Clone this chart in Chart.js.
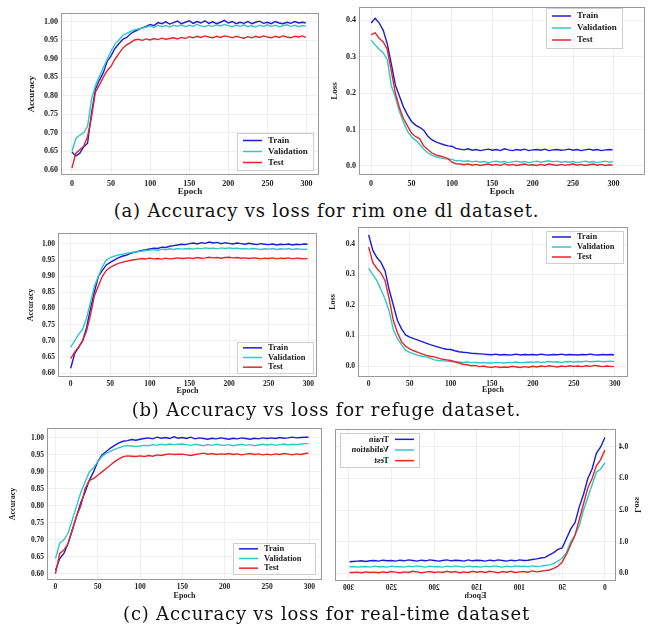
<!DOCTYPE html>
<html>
<head>
<meta charset="utf-8">
<script src="https://cdn.jsdelivr.net/npm/chart.js@4.4.0/dist/chart.umd.min.js"></script>
<style>
  body { margin: 0; background: #fff; width: 653px; height: 630px; position: relative; overflow: hidden; }
  canvas { position: absolute; }
  .cap { position: absolute; left: 0; width: 653px; text-align: center; font-family: "DejaVu Serif"; font-size: 18px; letter-spacing: 0.8px; color: #111; white-space: nowrap; line-height: 22px; }
</style>
</head>
<body>
<canvas id="aAcc" width="325" height="200" style="left:0px;top:0px"></canvas>
<canvas id="aLoss" width="328" height="200" style="left:325px;top:0px"></canvas>
<div class="cap" style="top:200px">(a) Accuracy vs loss for rim one dl dataset.</div>
<canvas id="bAcc" width="325" height="178" style="left:0px;top:222px"></canvas>
<canvas id="bLoss" width="328" height="178" style="left:325px;top:222px"></canvas>
<div class="cap" style="top:399px">(b) Accuracy vs loss for refuge dataset.</div>
<canvas id="cAcc" width="325" height="182" style="left:0px;top:420px"></canvas>
<canvas id="cLoss" width="328" height="182" style="left:325px;top:420px;transform:scaleX(-1)"></canvas>
<div class="cap" style="top:603px">(c) Accuracy vs loss for real-time dataset</div>

<script>
// epochs (every 5th epoch)
const epochs = [0,5,10,15,20,25,30,35,40,45, 50,55,60,65,70,75,80,85,90,95,
  100,105,110,115,120,125,130,135,140,145, 150,155,160,165,170,175,180,185,190,195,
  200,205,210,215,220,225,230,235,240,245, 250,255,260,265,270,275,280,285,290,295, 299];
const xTicks = [0, 50, 100, 150, 200, 250, 300];
const accTicks = [0.60, 0.65, 0.70, 0.75, 0.80, 0.85, 0.90, 0.95, 1.00];
const lossTicks = [0.0, 0.1, 0.2, 0.3, 0.4];
const seriesNames = ['Train', 'Validation', 'Test'];
const seriesColors = ['#1c1cd4', '#33c6c6', '#e2262a'];

// (a) rim one dl
const aAccTrain = [0.648,0.637,0.645,0.662,0.672,0.752,0.818,0.842,0.862,0.893,
  0.908,0.928,0.941,0.953,0.958,0.968,0.974,0.979,0.984,0.988,
  0.993,0.990,0.998,0.995,1.000,0.994,0.998,1.002,0.995,0.999,
  1.003,0.996,1.001,0.997,1.003,0.996,1.000,0.995,0.999,1.004,
  0.997,1.001,0.995,0.999,0.996,1.001,0.995,0.999,1.002,0.996,
  0.999,0.995,1.001,0.997,0.995,0.999,0.996,1.001,0.997,0.999, 0.997];
const aAccVal = [0.650,0.684,0.694,0.700,0.718,0.790,0.828,0.852,0.876,0.899,
  0.921,0.940,0.951,0.964,0.969,0.974,0.979,0.981,0.983,0.986,
  0.989,0.985,0.991,0.987,0.990,0.986,0.991,0.988,0.992,0.987,
  0.991,0.988,0.993,0.989,0.987,0.991,0.988,0.992,0.989,0.993,
  0.990,0.987,0.991,0.988,0.992,0.987,0.990,0.986,0.991,0.988,
  0.992,0.988,0.991,0.987,0.990,0.992,0.988,0.991,0.987,0.990, 0.988];
const aAccTest = [0.605,0.645,0.654,0.664,0.690,0.742,0.810,0.829,0.850,0.868,
  0.880,0.899,0.914,0.929,0.938,0.944,0.951,0.953,0.950,0.954,
  0.951,0.955,0.952,0.956,0.953,0.955,0.957,0.954,0.958,0.955,
  0.960,0.957,0.961,0.958,0.962,0.959,0.957,0.961,0.958,0.962,
  0.960,0.957,0.961,0.958,0.956,0.960,0.957,0.961,0.958,0.962,
  0.959,0.957,0.961,0.958,0.962,0.959,0.957,0.961,0.959,0.962, 0.958];
const aLossTrain = [0.392,0.405,0.392,0.372,0.335,0.280,0.222,0.192,0.162,0.140,
  0.122,0.112,0.106,0.098,0.082,0.072,0.066,0.062,0.058,0.055,
  0.054,0.048,0.046,0.044,0.047,0.043,0.045,0.042,0.044,0.046,
  0.043,0.045,0.042,0.047,0.044,0.042,0.045,0.043,0.046,0.042,
  0.044,0.045,0.043,0.046,0.042,0.044,0.045,0.043,0.044,0.046,
  0.043,0.045,0.042,0.044,0.046,0.043,0.045,0.042,0.044,0.045, 0.044];
const aLossVal = [0.345,0.332,0.320,0.310,0.292,0.220,0.188,0.150,0.120,0.095,
  0.080,0.070,0.060,0.046,0.036,0.030,0.025,0.022,0.020,0.019,
  0.018,0.014,0.015,0.012,0.014,0.011,0.013,0.010,0.012,0.009,
  0.011,0.013,0.010,0.012,0.009,0.011,0.013,0.010,0.012,0.009,
  0.011,0.013,0.010,0.012,0.014,0.011,0.013,0.010,0.012,0.010,
  0.012,0.009,0.011,0.013,0.010,0.012,0.009,0.011,0.013,0.010, 0.012];
const aLossTest = [0.360,0.365,0.350,0.340,0.320,0.260,0.200,0.160,0.130,0.110,
  0.090,0.080,0.075,0.055,0.045,0.036,0.030,0.027,0.024,0.020,
  0.010,0.006,0.005,0.003,0.005,0.002,0.004,0.001,0.003,0.005,
  0.002,0.004,0.001,0.006,0.002,0.004,0.001,0.003,0.005,0.002,
  0.003,0.001,0.004,0.002,0.005,0.003,0.001,0.004,0.002,0.003,
  0.005,0.002,0.004,0.001,0.003,0.005,0.002,0.004,0.001,0.003, 0.002];

// (b) refuge
const bAccTrain = [0.615,0.660,0.680,0.700,0.740,0.800,0.852,0.900,0.918,0.935,
  0.943,0.950,0.957,0.962,0.965,0.970,0.974,0.977,0.980,0.982,
  0.985,0.987,0.986,0.990,0.989,0.993,0.995,0.997,0.999,0.998,
  1.001,1.003,1.000,1.004,1.002,1.006,1.003,1.005,1.001,1.004,
  1.002,1.000,1.003,1.001,0.999,1.002,1.000,0.998,1.001,0.999,
  0.998,1.000,0.997,0.999,0.998,1.000,0.997,0.999,0.998,1.000, 0.999];
const bAccVal = [0.680,0.700,0.720,0.735,0.770,0.820,0.870,0.900,0.930,0.950,
  0.958,0.962,0.966,0.968,0.971,0.973,0.975,0.976,0.978,0.980,
  0.981,0.983,0.980,0.984,0.982,0.985,0.983,0.986,0.984,0.985,
  0.986,0.984,0.987,0.985,0.988,0.986,0.987,0.985,0.988,0.986,
  0.988,0.986,0.987,0.985,0.986,0.984,0.986,0.985,0.983,0.985,
  0.984,0.986,0.983,0.985,0.984,0.986,0.983,0.985,0.984,0.983, 0.984];
const bAccTest = [0.645,0.665,0.680,0.700,0.730,0.780,0.840,0.870,0.900,0.918,
  0.928,0.934,0.940,0.943,0.946,0.949,0.951,0.953,0.955,0.954,
  0.956,0.954,0.955,0.953,0.956,0.954,0.955,0.957,0.955,0.956,
  0.957,0.955,0.958,0.956,0.957,0.959,0.957,0.958,0.956,0.958,
  0.959,0.957,0.958,0.956,0.957,0.955,0.957,0.956,0.954,0.956,
  0.955,0.957,0.954,0.956,0.955,0.957,0.954,0.956,0.955,0.954, 0.955];
const bLossTrain = [0.430,0.380,0.356,0.340,0.312,0.250,0.200,0.150,0.122,0.102,
  0.095,0.090,0.085,0.080,0.075,0.070,0.066,0.062,0.058,0.055,
  0.054,0.050,0.047,0.045,0.044,0.042,0.041,0.040,0.039,0.038,
  0.037,0.039,0.036,0.038,0.036,0.037,0.039,0.036,0.038,0.037,
  0.038,0.036,0.039,0.037,0.036,0.038,0.037,0.039,0.036,0.038,
  0.037,0.036,0.038,0.037,0.039,0.037,0.036,0.038,0.037,0.038, 0.037];
const bLossVal = [0.320,0.300,0.280,0.250,0.220,0.180,0.120,0.090,0.070,0.052,
  0.045,0.040,0.035,0.032,0.030,0.026,0.020,0.018,0.017,0.016,
  0.015,0.014,0.013,0.012,0.013,0.011,0.012,0.010,0.011,0.010,
  0.010,0.012,0.011,0.010,0.012,0.011,0.013,0.011,0.012,0.013,
  0.012,0.014,0.012,0.013,0.015,0.013,0.014,0.012,0.014,0.015,
  0.013,0.015,0.014,0.016,0.014,0.015,0.016,0.014,0.015,0.016, 0.015];
const bLossTest = [0.390,0.340,0.320,0.305,0.280,0.220,0.150,0.110,0.080,0.065,
  0.056,0.050,0.045,0.040,0.035,0.032,0.030,0.026,0.022,0.020,
  0.018,0.014,0.010,0.006,0.004,0.001,0.002,-0.002,0.000,-0.003,
  -0.004,-0.002,-0.005,-0.003,-0.004,-0.001,-0.003,-0.005,-0.002,-0.004,
  -0.001,-0.003,0.000,-0.002,0.001,-0.001,-0.003,0.000,-0.002,0.001,
  -0.001,0.000,-0.002,0.001,-0.001,0.002,0.000,-0.002,0.000,-0.001, -0.002];

// (c) real-time
const cAccTrain = [0.610,0.645,0.660,0.690,0.730,0.770,0.810,0.840,0.875,0.900,
  0.930,0.950,0.960,0.970,0.978,0.985,0.990,0.992,0.995,0.993,
  0.996,0.998,1.000,0.997,1.002,0.999,1.001,0.998,1.003,0.999,
  1.001,0.998,1.002,0.997,1.000,0.998,0.996,0.999,0.997,1.000,
  0.998,0.996,0.999,0.997,1.000,0.998,0.996,0.999,0.997,1.000,
  0.998,1.000,0.998,1.001,0.999,1.000,1.002,1.000,1.001,1.002, 1.002];
const cAccVal = [0.645,0.690,0.700,0.720,0.760,0.800,0.840,0.870,0.900,0.912,
  0.930,0.945,0.955,0.960,0.966,0.971,0.975,0.977,0.976,0.975,
  0.976,0.978,0.977,0.980,0.978,0.981,0.979,0.982,0.980,0.981,
  0.982,0.980,0.978,0.981,0.979,0.977,0.980,0.978,0.981,0.979,
  0.978,0.980,0.977,0.979,0.981,0.978,0.980,0.977,0.979,0.981,
  0.979,0.981,0.978,0.980,0.982,0.979,0.981,0.980,0.982,0.983, 0.983];
const cAccTest = [0.600,0.660,0.670,0.690,0.730,0.770,0.800,0.850,0.875,0.880,
  0.890,0.900,0.910,0.920,0.930,0.938,0.945,0.947,0.946,0.945,
  0.947,0.945,0.948,0.946,0.950,0.948,0.951,0.953,0.951,0.952,
  0.952,0.950,0.948,0.951,0.953,0.955,0.952,0.954,0.951,0.953,
  0.952,0.954,0.951,0.953,0.950,0.952,0.954,0.951,0.953,0.950,
  0.952,0.950,0.953,0.951,0.954,0.952,0.950,0.953,0.951,0.954, 0.955];
const cLossTrain = [0.430,0.400,0.380,0.330,0.300,0.250,0.210,0.160,0.140,0.110,
  0.080,0.075,0.065,0.058,0.050,0.048,0.045,0.043,0.041,0.040,
  0.042,0.039,0.041,0.038,0.040,0.042,0.039,0.041,0.038,0.040,
  0.041,0.039,0.042,0.038,0.040,0.041,0.039,0.042,0.040,0.038,
  0.040,0.042,0.039,0.041,0.038,0.040,0.042,0.039,0.041,0.038,
  0.040,0.039,0.041,0.038,0.040,0.039,0.037,0.039,0.038,0.037, 0.036];
const cLossVal = [0.350,0.330,0.320,0.280,0.240,0.200,0.150,0.120,0.100,0.065,
  0.047,0.038,0.030,0.026,0.024,0.022,0.021,0.023,0.020,0.022,
  0.021,0.023,0.020,0.022,0.019,0.021,0.023,0.020,0.022,0.019,
  0.021,0.020,0.022,0.019,0.021,0.023,0.020,0.022,0.019,0.021,
  0.020,0.022,0.019,0.021,0.023,0.020,0.022,0.019,0.021,0.020,
  0.022,0.019,0.021,0.020,0.022,0.019,0.021,0.020,0.019,0.021, 0.020];
const cLossTest = [0.390,0.360,0.340,0.300,0.270,0.220,0.170,0.120,0.090,0.060,
  0.035,0.022,0.015,0.010,0.008,0.006,0.004,0.007,0.003,0.005,
  0.004,0.002,0.006,0.003,0.005,0.001,0.004,0.006,0.002,0.005,
  0.003,0.006,0.002,0.004,0.001,0.005,0.003,0.006,0.002,0.004,
  0.002,0.005,0.003,0.001,0.004,0.006,0.002,0.004,0.001,0.003,
  0.005,0.002,0.004,0.001,0.003,0.002,0.004,0.001,0.003,0.002, 0.002];

const SERIF = '"Liberation Serif", "Times New Roman", serif';

// frame round the plot + matplotlib-like legend box
const frameLegend = {
  id: 'frameLegend',
  afterDatasetsDraw(chart, args, o) {
    const { ctx, chartArea: a } = chart;
    ctx.save();
    ctx.strokeStyle = '#9a9a9a';
    ctx.lineWidth = 1;
    ctx.strokeRect(Math.round(a.left) + 0.5, Math.round(a.top) + 0.5,
      Math.round(a.right - a.left) - 1, Math.round(a.bottom - a.top) - 1);

    const L = o.box;
    if (L) {
      const x = a.right - L.dx - L.w;
      const y = L.corner === 'tr' ? a.top + L.dy : a.bottom - L.dy - L.h;
      ctx.fillStyle = 'rgba(255,255,255,0.92)';
      ctx.strokeStyle = '#cfcfcf';
      ctx.fillRect(x, y, L.w, L.h);
      ctx.strokeRect(Math.round(x) + 0.5, Math.round(y) + 0.5, L.w, L.h);
      const rowH = (L.h - 2 * L.pad) / 3;
      ctx.font = 'bold ' + L.size + 'px ' + SERIF;
      ctx.textBaseline = 'middle';
      ctx.textAlign = 'left';
      chart.data.datasets.forEach((ds, i) => {
        const cy = y + L.pad + rowH * (i + 0.5);
        ctx.strokeStyle = ds.borderColor;
        ctx.lineWidth = 1.5;
        ctx.beginPath();
        ctx.moveTo(x + 6, cy);
        ctx.lineTo(x + 25, cy);
        ctx.stroke();
        ctx.fillStyle = '#222';
        ctx.fillText(ds.label, x + 31, cy);
      });
    }
    ctx.restore();
  }
};

function makeChart(id, c) {
  const canvas = document.getElementById(id);
  const w = canvas.width, h = canvas.height;
  const lh = c.titleSize * 1.2;
  const W = c.area.l - (c.yTitleX - lh / 2);
  const H = (c.xTitleY + lh / 2) - c.area.b;
  const ticks = c.kind === 'acc' ? accTicks : lossTicks;
  const dec = c.kind === 'acc' ? 2 : 1;

  return new Chart(canvas, {
    type: 'line',
    data: {
      datasets: c.series.map((vals, i) => ({
        label: seriesNames[i],
        data: epochs.map((e, k) => ({ x: e, y: vals[k] })),
        borderColor: seriesColors[i],
        borderWidth: 1.4,
        pointRadius: 0,
        tension: 0,
        order: 2 - i
      }))
    },
    options: {
      responsive: false,
      animation: false,
      layout: {
        padding: { left: c.area.l - W, right: w - c.area.r, top: c.area.t, bottom: h - c.area.b - H }
      },
      plugins: { legend: { display: false }, tooltip: { enabled: false }, frameLegend: { box: c.legend } },
      scales: {
        x: {
          type: 'linear',
          min: c.xMin, max: c.xMax,
          afterBuildTicks: s => { s.ticks = xTicks.map(v => ({ value: v })); },
          afterFit: s => { s.height = H; s.paddingLeft = 0; s.paddingRight = 0; },
          grid: { color: '#ebebeb', lineWidth: 0.8, drawTicks: false },
          border: { display: false },
          ticks: { padding: c.tickPad, color: '#222', maxRotation: 0, font: { family: SERIF, size: c.tickSize, weight: 'bold' } },
          title: { display: true, text: 'Epoch', padding: 0, color: '#222', font: { family: SERIF, size: c.titleSize, weight: 'bold' } }
        },
        y: {
          min: c.yMin, max: c.yMax,
          afterBuildTicks: s => { s.ticks = ticks.map(v => ({ value: v })); },
          afterFit: s => { s.width = W; s.paddingTop = 0; s.paddingBottom = 0; },
          grid: { color: '#ebebeb', lineWidth: 0.8, drawTicks: false },
          border: { display: false },
          ticks: { padding: 3, autoSkip: false, color: '#222', font: { family: SERIF, size: c.tickSize, weight: 'bold' },
            callback: v => Number(v).toFixed(dec) },
          title: { display: true, text: c.kind === 'acc' ? 'Accuracy' : 'Loss', padding: 0, color: '#222',
            font: { family: SERIF, size: c.titleSize, weight: 'bold' } }
        }
      }
    },
    plugins: [frameLegend]
  });
}

makeChart('aAcc', {
  kind: 'acc', series: [aAccTrain, aAccVal, aAccTest],
  area: { l: 61, r: 319, t: 13, b: 175 }, yTitleX: 32, xTitleY: 192,
  xMin: -14, xMax: 316, yMin: 0.586, yMax: 1.024, tickSize: 8, titleSize: 9, tickPad: 4,
  legend: { corner: 'br', dx: 6, dy: 5, w: 76, h: 37, pad: 2, size: 9 }
});
makeChart('aLoss', {
  kind: 'loss', series: [aLossTrain, aLossVal, aLossTest],
  area: { l: 34, r: 320, t: 7, b: 175 }, yTitleX: 10, xTitleY: 192,
  xMin: -15, xMax: 339, yMin: -0.025, yMax: 0.436, tickSize: 8, titleSize: 9, tickPad: 4,
  legend: { corner: 'tr', dx: 23, dy: 1, w: 76, h: 40, pad: 2, size: 9 }
});
makeChart('bAcc', {
  kind: 'acc', series: [bAccTrain, bAccVal, bAccTest],
  area: { l: 58, r: 317, t: 11, b: 155 }, yTitleX: 31, xTitleY: 169,
  xMin: -16, xMax: 311, yMin: 0.588, yMax: 1.034, tickSize: 7.5, titleSize: 8, tickPad: 3,
  legend: { corner: 'br', dx: 4, dy: 4, w: 76, h: 31, pad: 1, size: 8.5 }
});
makeChart('bLoss', {
  kind: 'loss', series: [bLossTrain, bLossVal, bLossTest],
  area: { l: 33, r: 303, t: 5, b: 155 }, yTitleX: 8, xTitleY: 168,
  xMin: -13, xMax: 316, yMin: -0.036, yMax: 0.456, tickSize: 7.5, titleSize: 8, tickPad: 3,
  legend: { corner: 'tr', dx: 5, dy: 4, w: 77, h: 32, pad: 1, size: 8.5 }
});
makeChart('cAcc', {
  kind: 'acc', series: [cAccTrain, cAccVal, cAccTest],
  area: { l: 47, r: 322, t: 8, b: 160 }, yTitleX: 13, xTitleY: 176,
  xMin: -10, xMax: 315, yMin: 0.582, yMax: 1.029, tickSize: 7.5, titleSize: 8, tickPad: 3,
  legend: { corner: 'br', dx: 7, dy: 6, w: 82, h: 31, pad: 1, size: 8.5 }
});
// this panel is shown mirrored left-right in the source figure
makeChart('cLoss', {
  kind: 'loss', series: [cLossTrain, cLossVal, cLossTest],
  area: { l: 37, r: 318, t: 9, b: 161 }, yTitleX: 16, xTitleY: 176,
  xMin: -13, xMax: 316, yMin: -0.025, yMax: 0.457, tickSize: 7.5, titleSize: 8, tickPad: 3,
  legend: { corner: 'tr', dx: 6, dy: 4, w: 79, h: 34, pad: 1, size: 8.5 }
});
</script>
</body>
</html>
